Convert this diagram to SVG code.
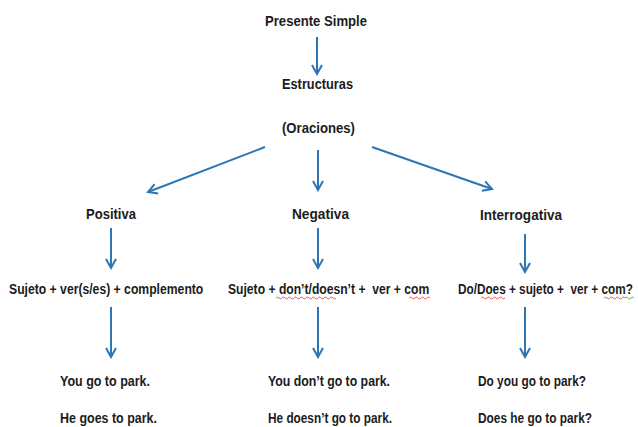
<svg xmlns="http://www.w3.org/2000/svg" width="638" height="427" viewBox="0 0 638 427">
<defs>
<marker id="ah" viewBox="0 0 12 12" refX="10" refY="6" markerWidth="12" markerHeight="12" markerUnits="userSpaceOnUse" orient="auto">
<path d="M1,1 L10,6 L1,11" fill="none" stroke="#2e75b6" stroke-width="2"/>
</marker>
<style>
text{font-family:"Liberation Sans",Arial,sans-serif;font-weight:bold;font-size:15px;fill:#1c1c1c;}
.c{stroke:#2e75b6;stroke-width:2;fill:none;marker-end:url(#ah);}
.sq{stroke:#e03030;stroke-width:0.8;fill:none;}
</style>
</defs>
<rect width="638" height="427" fill="#ffffff"/>
<g id="connectors">
<line class="c" x1="317" y1="37" x2="317" y2="74"/>
<line class="c" x1="265" y1="147" x2="148" y2="192"/>
<line class="c" x1="318" y1="150" x2="318" y2="190"/>
<line class="c" x1="372" y1="147" x2="492" y2="189"/>
<line class="c" x1="111" y1="228" x2="111" y2="268"/>
<line class="c" x1="318" y1="228" x2="318" y2="268"/>
<line class="c" x1="525" y1="234" x2="525" y2="272"/>
<line class="c" x1="111" y1="307" x2="111" y2="357"/>
<line class="c" x1="318" y1="307" x2="318" y2="357"/>
<line class="c" x1="525" y1="307" x2="525" y2="357"/>
</g>
<g id="presente"><text x="265" y="26" textLength="102" lengthAdjust="spacingAndGlyphs">Presente Simple</text></g>
<g id="estructuras"><text x="282" y="89" textLength="71" lengthAdjust="spacingAndGlyphs">Estructuras</text></g>
<g id="oraciones"><text x="282" y="133" textLength="73" lengthAdjust="spacingAndGlyphs">(Oraciones)</text></g>
<g id="positiva"><text x="86" y="219" textLength="50" lengthAdjust="spacingAndGlyphs">Positiva</text></g>
<g id="negativa"><text x="292" y="219" textLength="57" lengthAdjust="spacingAndGlyphs">Negativa</text></g>
<g id="interrogativa"><text x="480" y="220" textLength="82" lengthAdjust="spacingAndGlyphs">Interrogativa</text></g>
<g id="pos-estructura"><text transform="translate(9,294) scale(0.813,1)" x="0" y="0">Sujeto + ver(s/es) + complemento</text></g>
<g id="neg-estructura"><text transform="translate(228,294) scale(0.81,1)" x="0" y="0" xml:space="preserve">Sujeto + don’t/doesn’t +  ver + com</text>
<path class="sq" d="M276,298 q1.5,-2 3,0 t3,0 t3,0 t3,0 t3,0 t3,0 t3,0 t3,0 t3,0 t3,0 t3,0 t3,0 t3,0 t3,0 t3,0 t3,0 t3,0 t3,0 t3,0 t3,0"/>
<path class="sq" d="M409,298 q1.5,-2 3,0 t3,0 t3,0 t3,0 t3,0 t3,0 t3,0"/>
</g>
<g id="int-estructura"><text transform="translate(458,294) scale(0.785,1)" x="0" y="0" xml:space="preserve">Do/Does + sujeto +  ver + com?</text>
<path class="sq" d="M481,298 q1.5,-2 3,0 t3,0 t3,0 t3,0 t3,0 t3,0 t3,0 t3,0"/>
<path class="sq" d="M604,298 q1.5,-2 3,0 t3,0 t3,0 t3,0 t3,0 t3,0 t3,0"/>
<path d="M625,298 q1.5,-2 3,0 t3,0 t3,0" stroke="#3a9a3a" stroke-width="0.8" fill="none"/>
</g>
<g id="pos-ejemplos"><text x="60" y="386" textLength="90" lengthAdjust="spacingAndGlyphs">You go to park.</text><text x="60" y="423" textLength="97" lengthAdjust="spacingAndGlyphs">He goes to park.</text></g>
<g id="neg-ejemplos"><text x="268" y="386" textLength="122" lengthAdjust="spacingAndGlyphs">You don’t go to park.</text><text x="268" y="423" textLength="124" lengthAdjust="spacingAndGlyphs">He doesn’t go to park.</text></g>
<g id="int-ejemplos"><text x="478" y="386" textLength="108" lengthAdjust="spacingAndGlyphs">Do you go to park?</text><text x="478" y="423" textLength="114" lengthAdjust="spacingAndGlyphs">Does he go to park?</text></g>
</svg>
